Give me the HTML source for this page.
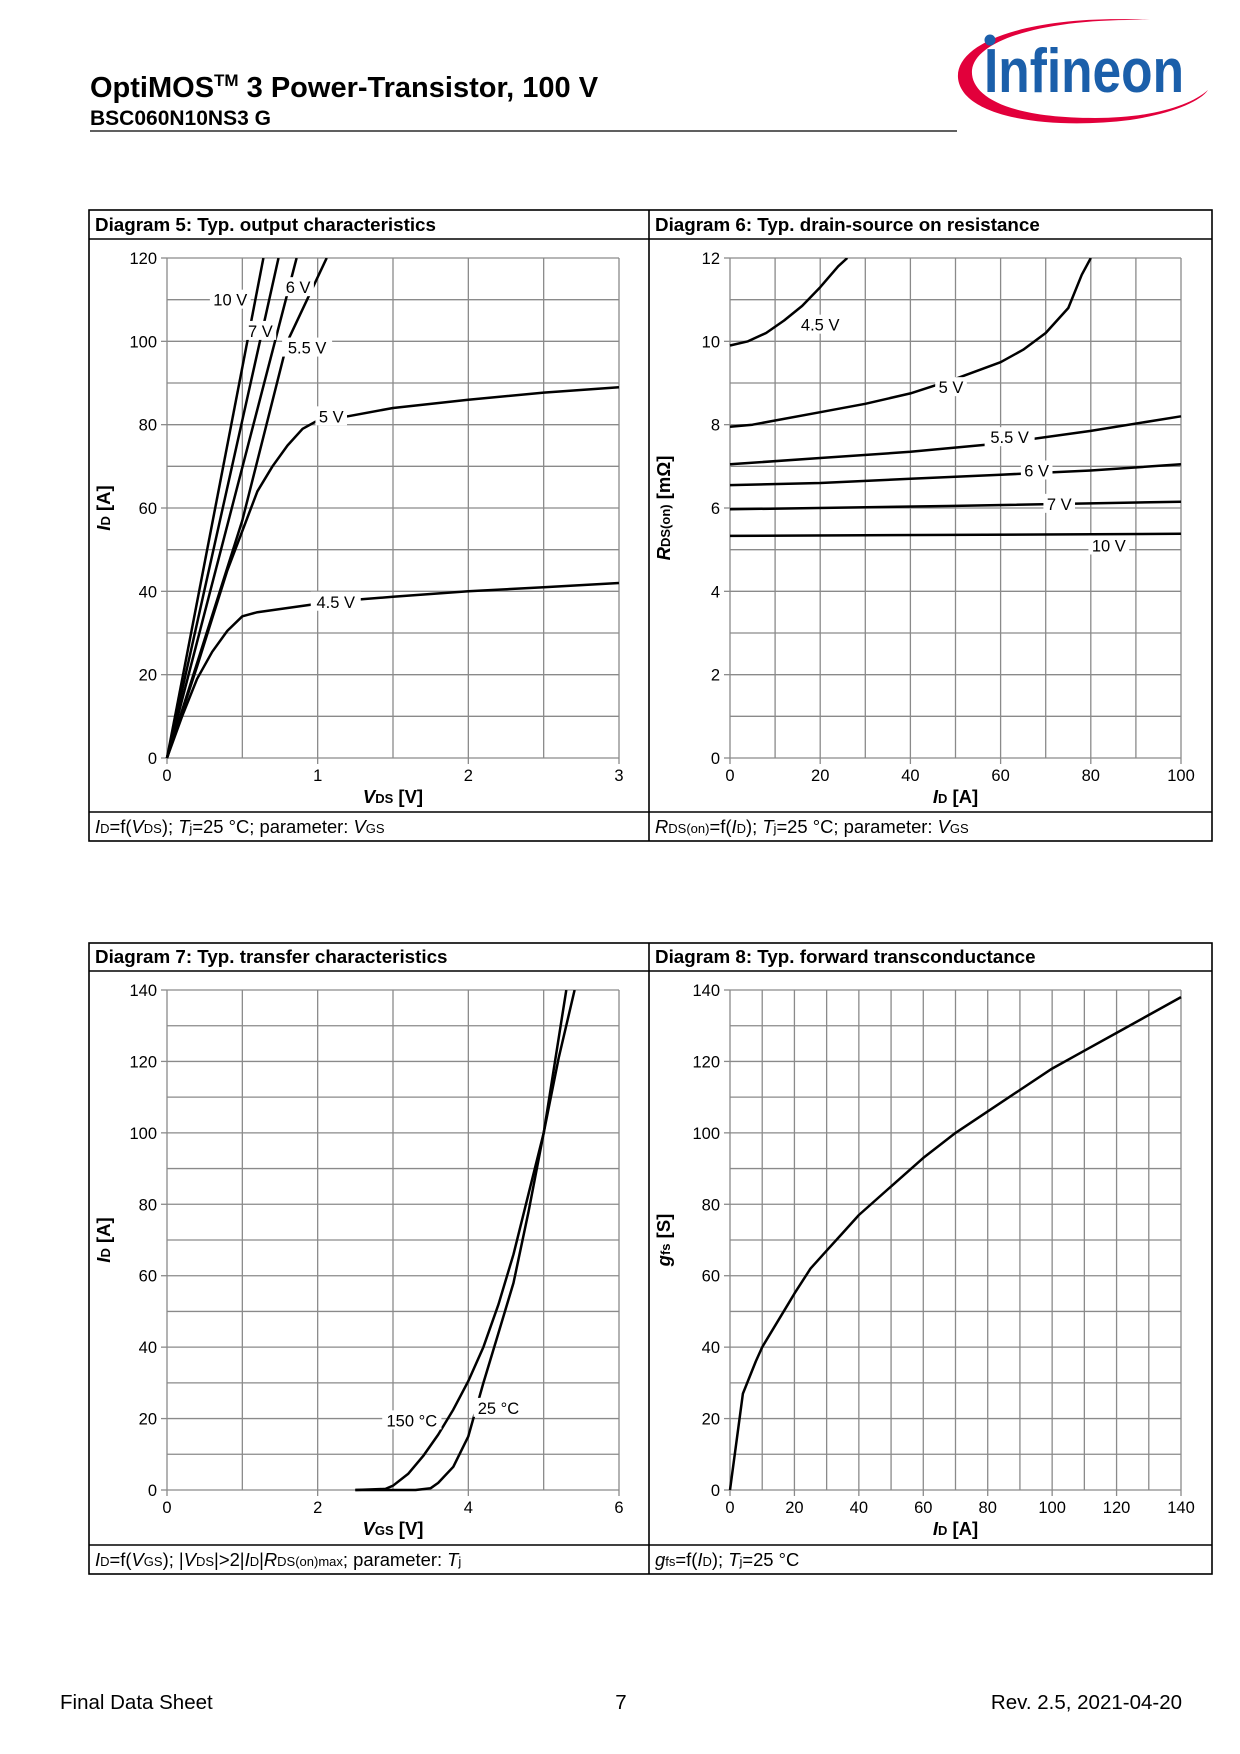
<!DOCTYPE html>
<html><head><meta charset="utf-8"><style>
html,body{margin:0;padding:0;background:#fff;}
svg{display:block;font-family:"Liberation Sans",Arial,sans-serif;}
</style></head><body>
<svg id="page" width="1240" height="1754" viewBox="0 0 1240 1754" xmlns="http://www.w3.org/2000/svg">
<g>
<text x="90" y="97" font-size="29" font-weight="bold">OptiMOS<tspan font-size="17" dy="-11">TM</tspan><tspan dy="11"> 3 Power-Transistor, 100 V</tspan></text>
<text x="90" y="125" font-size="21" font-weight="bold">BSC060N10NS3 G</text>
<line x1="90" y1="131" x2="957" y2="131" stroke="#000" stroke-width="1.3"/>
<g>
<path d="M1150 20 C1030 14 955 42 958 78 C962 118 1050 130 1130 120 C1170 114 1200 102 1208 90 C1190 106 1150 118 1095 118 C1005 118 970 95 972 70 C976 38 1050 18 1150 20 Z" fill="#e2003b"/>
<circle cx="990" cy="40" r="5.5" fill="#1b5faa"/>
<text x="984" y="92" font-size="62" font-weight="bold" fill="#1b5faa" textLength="200" lengthAdjust="spacingAndGlyphs">Infineon</text>
</g>
</g>
<g id="charts"></g>
<g font-size="20.5">
<text x="60" y="1709">Final Data Sheet</text>
<text x="621" y="1709" text-anchor="middle">7</text>
<text x="1182" y="1709" text-anchor="end">Rev. 2.5,  2021-04-20</text>
</g>
</svg>
<script>
// ---- Diagram 5 data ----
const d5Series = ["10 V","7 V","6 V","5.5 V","5 V","4.5 V"];
const d5_10V = [[0,0],[0.64,120]];
const d5_7V = [[0,0],[0.74,120]];
const d5_6V = [[0,0],[0.86,120]];
const d5_55V = [[0,0],[0.5,57],[0.8,100],[1.06,120]];
const d5_5V = [[0,0],[0.2,22],[0.4,45],[0.6,64],[0.7,70],[0.8,75],[0.9,79],[1,81],[1.2,82],[1.5,84],[2,86],[2.5,87.7],[3,89]];
const d5_45V = [[0,0],[0.1,10],[0.2,19],[0.3,25.5],[0.4,30.5],[0.5,34],[0.6,35],[0.8,36],[1,37],[1.25,38],[1.5,38.7],[2,40],[2.5,41],[3,42]];
const d5LabelPos = [[0.42,110],[0.62,102.5],[0.87,113],[0.93,98.5],[1.09,82],[1.12,37.5]];
const d5XTicks = [0,1,2,3];
const d5YTicks = [0,20,40,60,80,100,120];
// ---- Diagram 6 data ----
const d6Series = ["4.5 V","5 V","5.5 V","6 V","7 V","10 V"];
const d6_45V = [[0,9.9],[4,10],[8,10.2],[12,10.5],[16,10.85],[20,11.3],[24,11.8],[26,12]];
const d6_5V = [[0,7.95],[5,8.0],[10,8.1],[20,8.3],[30,8.5],[40,8.75],[50,9.1],[60,9.5],[65,9.8],[70,10.2],[75,10.8],[78,11.6],[80,12]];
const d6_55V = [[0,7.05],[20,7.2],[40,7.35],[60,7.55],[80,7.85],[100,8.2]];
const d6_6V = [[0,6.55],[20,6.6],[40,6.7],[60,6.8],[80,6.9],[100,7.05]];
const d6_7V = [[0,5.97],[50,6.05],[100,6.15]];
const d6_10V = [[0,5.33],[100,5.38]];
const d6LabelPos = [[20,10.4],[49,8.9],[62,7.7],[68,6.9],[73,6.1],[84,5.1]];
const d6XTicks = [0,20,40,60,80,100];
const d6YTicks = [0,2,4,6,8,10,12];
// ---- Diagram 7 data ----
const d7Series = ["150 °C","25 °C"];
const d7_150C = [[2.5,0],[2.9,0.3],[3.0,1.2],[3.2,4.5],[3.4,9.5],[3.6,15.5],[3.8,22.5],[4,30.5],[4.2,40],[4.4,52],[4.6,66],[4.8,83],[5,100],[5.15,120],[5.3,140]];
const d7_25C = [[2.5,0],[3.3,0],[3.5,0.5],[3.6,2],[3.8,6.5],[4,15],[4.2,30],[4.4,44],[4.6,58],[4.8,78],[5,100],[5.2,121],[5.41,140]];
const d7LabelPos = [[3.25,19.5],[4.4,23]];
const d7XTicks = [0,2,4,6];
const d7YTicks = [0,20,40,60,80,100,120,140];
// ---- Diagram 8 data ----
const d8_gfs = [[0,0],[4,27],[8,36],[10,40],[14,46],[18,52],[20,55],[25,62],[30,67],[35,72],[40,77],[50,85],[60,93],[70,100],[80,106],[90,112],[100,118],[110,123],[120,128],[130,133],[140,138]];
const d8XTicks = [0,20,40,60,80,100,120,140];
const d8YTicks = [0,20,40,60,80,100,120,140];

const NS="http://www.w3.org/2000/svg";
const root=document.getElementById('charts');
function mk(tag,attrs,parent){const e=document.createElementNS(NS,tag);for(const k in attrs)e.setAttribute(k,attrs[k]);(parent||root).appendChild(e);return e;}

function box(x1,x2,xm,top,tb,fb,bot,t1,t2,f1,f2,nm){
  const g=mk('g',{});
  
  
  mk('rect',{x:x1,y:top,width:x2-x1,height:bot-top,fill:'none',stroke:'#000','stroke-width':1.6},g);
  mk('line',{x1:x1,x2:x2,y1:tb,y2:tb,stroke:'#000','stroke-width':1.6},g);
  mk('line',{x1:x1,x2:x2,y1:fb,y2:fb,stroke:'#000','stroke-width':1.6},g);
  mk('line',{x1:xm,x2:xm,y1:top,y2:bot,stroke:'#000','stroke-width':1.6},g);
  const a=mk('text',{x:x1+6,y:tb-8,'font-size':18.8,'font-weight':'bold'},g);a.textContent=t1;
  
  
  const b=mk('text',{x:xm+6,y:tb-8,'font-size':18.8,'font-weight':'bold'},g);b.textContent=t2;
  
  
  const c=mk('text',{x:x1+6,y:bot-8,'font-size':18.4},g);c.innerHTML=f1;
  
  
  const d=mk('text',{x:xm+6,y:bot-8,'font-size':18.4},g);d.innerHTML=f2;
  
  
}
box(89,1212,649,210,239,812,841,'Diagram 5: Typ. output characteristics','Diagram 6: Typ. drain-source on resistance',
 '<tspan font-style="italic">I</tspan><tspan font-size="13">D</tspan>=f(<tspan font-style="italic">V</tspan><tspan font-size="13">DS</tspan>); <tspan font-style="italic">T</tspan><tspan font-size="13">j</tspan>=25 °C; parameter: <tspan font-style="italic">V</tspan><tspan font-size="13">GS</tspan>',
 '<tspan font-style="italic">R</tspan><tspan font-size="13">DS(on)</tspan>=f(<tspan font-style="italic">I</tspan><tspan font-size="13">D</tspan>); <tspan font-style="italic">T</tspan><tspan font-size="13">j</tspan>=25 °C; parameter: <tspan font-style="italic">V</tspan><tspan font-size="13">GS</tspan>','diagram-box-5-6');
box(89,1212,649,943,971,1545,1574,'Diagram 7: Typ. transfer characteristics','Diagram 8: Typ. forward transconductance',
 '<tspan font-style="italic">I</tspan><tspan font-size="13">D</tspan>=f(<tspan font-style="italic">V</tspan><tspan font-size="13">GS</tspan>); |<tspan font-style="italic">V</tspan><tspan font-size="13">DS</tspan>|&gt;2|<tspan font-style="italic">I</tspan><tspan font-size="13">D</tspan>|<tspan font-style="italic">R</tspan><tspan font-size="13">DS(on)max</tspan>; parameter: <tspan font-style="italic">T</tspan><tspan font-size="13">j</tspan>',
 '<tspan font-style="italic">g</tspan><tspan font-size="13">fs</tspan>=f(<tspan font-style="italic">I</tspan><tspan font-size="13">D</tspan>); <tspan font-style="italic">T</tspan><tspan font-size="13">j</tspan>=25 °C','diagram-box-7-8');

function chart(o){
  const g=mk('g',{});
  
  
  const sx=v=>o.px0+(v-o.xmin)/(o.xmax-o.xmin)*(o.px1-o.px0);
  const sy=v=>o.py0-(v-o.ymin)/(o.ymax-o.ymin)*(o.py0-o.py1);
  for(let v=o.xmin;v<=o.xmax+1e-9;v+=o.gx){const l=mk('line',{x1:sx(v),x2:sx(v),y1:o.py1,y2:o.py0,stroke:'#8a8a8a','stroke-width':1.3},g);
    
    }
  for(let v=o.ymin;v<=o.ymax+1e-9;v+=o.gy){const l=mk('line',{x1:o.px0,x2:o.px1,y1:sy(v),y2:sy(v),stroke:'#8a8a8a','stroke-width':1.3},g);
    
    }
  o.xticks.forEach(v=>{mk('line',{x1:sx(v),x2:sx(v),y1:o.py0,y2:o.py0+6,stroke:'#8a8a8a','stroke-width':1.3},g);
    const t=mk('text',{x:sx(v),y:o.py0+23,'font-size':16.5,'text-anchor':'middle'},g);t.textContent=v;
    
    });
  o.yticks.forEach(v=>{mk('line',{x1:o.px0-6,x2:o.px0,y1:sy(v),y2:sy(v),stroke:'#8a8a8a','stroke-width':1.3},g);
    const t=mk('text',{x:o.px0-10,y:sy(v)+6,'font-size':16.5,'text-anchor':'end'},g);t.textContent=v;
    
    });
  const xl=mk('text',{x:(o.px0+o.px1)/2,y:o.py0+45,'font-size':18.5,'font-weight':'bold','text-anchor':'middle'},g);xl.innerHTML=o.xlabel;
  
  
  const cy=(o.py0+o.py1)/2;
  const yl=mk('text',{x:o.ylx,y:cy,'font-size':18.5,'font-weight':'bold','text-anchor':'middle',transform:`rotate(-90 ${o.ylx} ${cy})`},g);yl.innerHTML=o.ylabel;
  
  
  const cp='cp'+o.name;
  const cd=mk('clipPath',{id:cp},g);mk('rect',{x:o.px0-2,y:o.py1,width:o.px1-o.px0+4,height:o.py0-o.py1+2},cd);
  o.series.forEach((s,i)=>{
    const p=mk('path',{d:s.map((q,j)=>(j?'L':'M')+sx(q[0]).toFixed(1)+' '+sy(q[1]).toFixed(1)).join(' '),fill:'none',stroke:'#000','stroke-width':2.5,'stroke-linejoin':'round','clip-path':`url(#${cp})`},g);
    
    
  });
  (o.labels||[]).forEach((lp,i)=>{
    const x=sx(lp[0]),y=sy(lp[1]);const w=o.names[i].length*9.2+4;
    mk('rect',{x:x-w/2,y:y-10,width:w,height:19,fill:'#fff'},g);
    const t=mk('text',{x:x,y:y+6,'font-size':16.5,'text-anchor':'middle'},g);t.textContent=o.names[i];
    
    
  });
}
chart({name:'diagram-5-chart',px0:167,px1:619,py0:758,py1:258,xmin:0,xmax:3,ymin:0,ymax:120,gx:0.5,gy:10,xticks:d5XTicks,yticks:d5YTicks,
 series:[d5_10V,d5_7V,d5_6V,d5_55V,d5_5V,d5_45V],names:d5Series,labels:d5LabelPos,ylx:110,
 xlabel:'<tspan font-style="italic">V</tspan><tspan font-size="13">DS</tspan> [V]',ylabel:'<tspan font-style="italic">I</tspan><tspan font-size="13">D</tspan> [A]'});
chart({name:'diagram-6-chart',px0:730,px1:1181,py0:758,py1:258,xmin:0,xmax:100,ymin:0,ymax:12,gx:10,gy:1,xticks:d6XTicks,yticks:d6YTicks,
 series:[d6_45V,d6_5V,d6_55V,d6_6V,d6_7V,d6_10V],names:d6Series,labels:d6LabelPos,ylx:670,
 xlabel:'<tspan font-style="italic">I</tspan><tspan font-size="13">D</tspan> [A]',ylabel:'<tspan font-style="italic">R</tspan><tspan font-size="13">DS(on)</tspan>  [mΩ]'});
chart({name:'diagram-7-chart',px0:167,px1:619,py0:1490,py1:990,xmin:0,xmax:6,ymin:0,ymax:140,gx:1,gy:10,xticks:d7XTicks,yticks:d7YTicks,
 series:[d7_150C,d7_25C],names:d7Series,labels:d7LabelPos,ylx:110,
 xlabel:'<tspan font-style="italic">V</tspan><tspan font-size="13">GS</tspan> [V]',ylabel:'<tspan font-style="italic">I</tspan><tspan font-size="13">D</tspan> [A]'});
chart({name:'diagram-8-chart',px0:730,px1:1181,py0:1490,py1:990,xmin:0,xmax:140,ymin:0,ymax:140,gx:10,gy:10,xticks:d8XTicks,yticks:d8YTicks,
 series:[d8_gfs],names:['gfs'],labels:[],ylx:670,
 xlabel:'<tspan font-style="italic">I</tspan><tspan font-size="13">D</tspan> [A]',ylabel:'<tspan font-style="italic">g</tspan><tspan font-size="13">fs</tspan> [S]'});
</script>
</body></html>
